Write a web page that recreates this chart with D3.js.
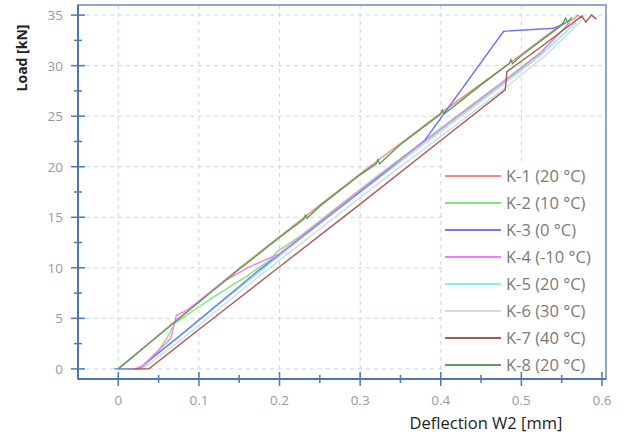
<!DOCTYPE html>
<html><head><meta charset="utf-8">
<script src="https://cdn.jsdelivr.net/npm/d3@7"></script>
<style>body{margin:0;background:#fff}svg{display:block}</style>
</head><body>
<svg id="c" width="627" height="444"></svg>
<script>
// ---- data ----
const seriesNames = ["K-1 (20 °C)","K-2 (10 °C)","K-3 (0 °C)","K-4 (-10 °C)","K-5 (20 °C)","K-6 (30 °C)","K-7 (40 °C)","K-8 (20 °C)"];
const seriesColors = ["#f28a84","#80e67a","#7474ee","#f47ef4","#80f0f0","#d8d8d8","#a85a55","#58a058"];
const xTicks = [0,0.1,0.2,0.3,0.4,0.5,0.6];
const yTicks = [0,5,10,15,20,25,30,35];

const k1x = [0,0.05,0.1,0.15,0.2,0.25,0.3,0.35,0.4,0.45,0.5,0.55,0.565,0.57,0.575];
const k1y = [0,3.35,6.7,9.95,13.1,16.2,19.3,22.3,25.3,28.2,31.1,34.1,34.6,35.0,34.7];
const k2x = [0,0.028,0.045,0.06,0.07,0.09,0.12,0.16,0.19,0.197,0.225,0.275,0.325,0.375,0.425,0.475,0.525,0.56];
const k2y = [0,0,1.3,3.0,4.5,5.6,7.2,9.2,10.9,11.6,13.1,16.2,19.3,22.3,25.3,28.3,31.4,34.3];
const k3x = [-0.005,0.025,0.075,0.125,0.175,0.225,0.275,0.325,0.38,0.478,0.54,0.555];
const k3y = [0,0,3.2,6.5,9.8,12.9,16.0,19.1,22.6,33.4,33.7,34.2];
const k4x = [0.02,0.03,0.065,0.072,0.085,0.13,0.16,0.2,0.225,0.275,0.325,0.375,0.425,0.475,0.525,0.56];
const k4y = [0,0.3,3.0,5.3,5.8,8.6,10.0,11.4,13.0,16.1,19.2,22.2,25.2,28.2,31.3,34.3];
const k5x = [0,0.026,0.075,0.125,0.175,0.225,0.275,0.325,0.375,0.425,0.475,0.525,0.568];
const k5y = [0,0,3.1,6.4,9.6,12.8,15.9,19.0,22.0,25.0,28.0,31.1,34.3];
const k6x = [0.01,0.03,0.08,0.13,0.18,0.23,0.28,0.33,0.38,0.43,0.48,0.53,0.575];
const k6y = [0,0,3.0,6.3,9.5,12.6,15.7,18.8,21.8,24.8,27.8,31.0,34.5];
const k7x = [0.019,0.038,0.1,0.2,0.3,0.4,0.48,0.482,0.52,0.56,0.575,0.58,0.587,0.593];
const k7y = [0,0,3.9,10.1,16.3,22.6,27.6,29.4,31.6,34.0,34.9,34.3,35.0,34.6];
const k8x = [0,0.05,0.1,0.15,0.2,0.23,0.232,0.234,0.25,0.3,0.32,0.322,0.324,0.35,0.4,0.402,0.404,0.45,0.485,0.487,0.489,0.5,0.55,0.555,0.557,0.563];
const k8y = [0,3.3,6.6,9.85,13.0,14.8,15.2,14.9,16.1,19.2,20.3,20.7,20.3,22.2,25.2,25.6,25.2,28.1,30.2,30.6,30.2,31.0,34.0,34.7,34.3,34.8];

const xs = [k1x,k2x,k3x,k4x,k5x,k6x,k7x,k8x];
const ys = [k1y,k2y,k3y,k4y,k5y,k6y,k7y,k8y];

// ---- chart ----
const svg = d3.select("#c");
const L = 78, R = 606, T = 5, B = 379;
const x = d3.scaleLinear().domain([-0.05,0.605]).range([L,R]);
const y = d3.scaleLinear().domain([-1,36]).range([B,T]);
const font = "'Open Sans', 'Liberation Sans', sans-serif";

// grid
const g = svg.append("g");
g.selectAll("line.v").data(xTicks.filter(d=>d<0.6)).enter().append("line")
  .attr("x1",d=>x(d)).attr("x2",d=>x(d)).attr("y1",T).attr("y2",B)
  .attr("stroke","#c9d5e6").attr("stroke-width",1).attr("stroke-dasharray","4,4");
g.selectAll("line.h").data(yTicks).enter().append("line")
  .attr("y1",d=>y(d)).attr("y2",d=>y(d)).attr("x1",L).attr("x2",R)
  .attr("stroke","#c9d5e6").attr("stroke-width",1).attr("stroke-dasharray","4,4");

// frame
svg.append("rect").attr("x",L).attr("y",T).attr("width",R-L).attr("height",B-T)
  .attr("fill","none").attr("stroke","#8fa8cc").attr("stroke-width",2);

// legend background
svg.append("rect").attr("x",443).attr("y",163).attr("width",160).attr("height",214).attr("fill","#fff");

// series
const line = d3.line().x(d=>x(d[0])).y(d=>y(d[1]));
const order = [5,4,0,1,2,3,6,7];
order.forEach(i=>{
  const pts = xs[i].map((v,j)=>[v,ys[i][j]]);
  svg.append("path").attr("d",line(pts)).attr("fill","none")
    .attr("stroke",seriesColors[i]).attr("stroke-width",1.4);
});

// axes
const axisColor = "#4a78b4";
svg.append("line").attr("x1",L).attr("x2",R).attr("y1",B).attr("y2",B).attr("stroke",axisColor).attr("stroke-width",2);
svg.append("line").attr("x1",L).attr("x2",L).attr("y1",T).attr("y2",B).attr("stroke",axisColor).attr("stroke-width",2);

const xMinor = d3.range(0,0.6001,0.05);
svg.selectAll("line.xt").data(xMinor).enter().append("line")
  .attr("x1",d=>x(d)).attr("x2",d=>x(d))
  .attr("y1",(d,i)=>B-(i%2?4:7)).attr("y2",(d,i)=>B+(i%2?4:7))
  .attr("stroke",axisColor).attr("stroke-width",1.5);
const yMinor = d3.range(0,35.01,2.5);
svg.selectAll("line.yt").data(yMinor).enter().append("line")
  .attr("y1",d=>y(d)).attr("y2",d=>y(d))
  .attr("x1",(d,i)=>L-(i%2?4:7)).attr("x2",(d,i)=>L+(i%2?4:7))
  .attr("stroke",axisColor).attr("stroke-width",1.5);

svg.selectAll("text.xl").data(xTicks).enter().append("text")
  .attr("x",d=>x(d)).attr("y",405).attr("text-anchor","middle")
  .attr("font-family",font).attr("font-size",13.5).attr("fill","#9a9a9a")
  .text(d=>d3.format("~g")(d));
svg.selectAll("text.yl").data(yTicks).enter().append("text")
  .attr("x",63).attr("y",d=>y(d)+5).attr("text-anchor","end")
  .attr("font-family",font).attr("font-size",13.5).attr("fill","#9a9a9a")
  .text(d=>d);

svg.append("text").attr("x",486).attr("y",429).attr("text-anchor","middle")
  .attr("font-family",font).attr("font-size",16.5).attr("fill","#222")
  .text("Deflection W2 [mm]");
svg.append("text").attr("transform","translate(27,58) rotate(-90)").attr("text-anchor","middle")
  .attr("font-family",font).attr("font-size",14).attr("font-weight","bold").attr("fill","#222")
  .text("Load [kN]");

// legend
seriesNames.forEach((n,i)=>{
  const yy = 176 + i*27;
  svg.append("line").attr("x1",445).attr("x2",501).attr("y1",yy).attr("y2",yy)
    .attr("stroke",seriesColors[i]).attr("stroke-width",2);
  svg.append("text").attr("x",506).attr("y",yy+5.5).attr("font-family",font)
    .attr("font-size",16.5).attr("fill","#7a7a7a").text(n);
});
</script>
</body></html>
